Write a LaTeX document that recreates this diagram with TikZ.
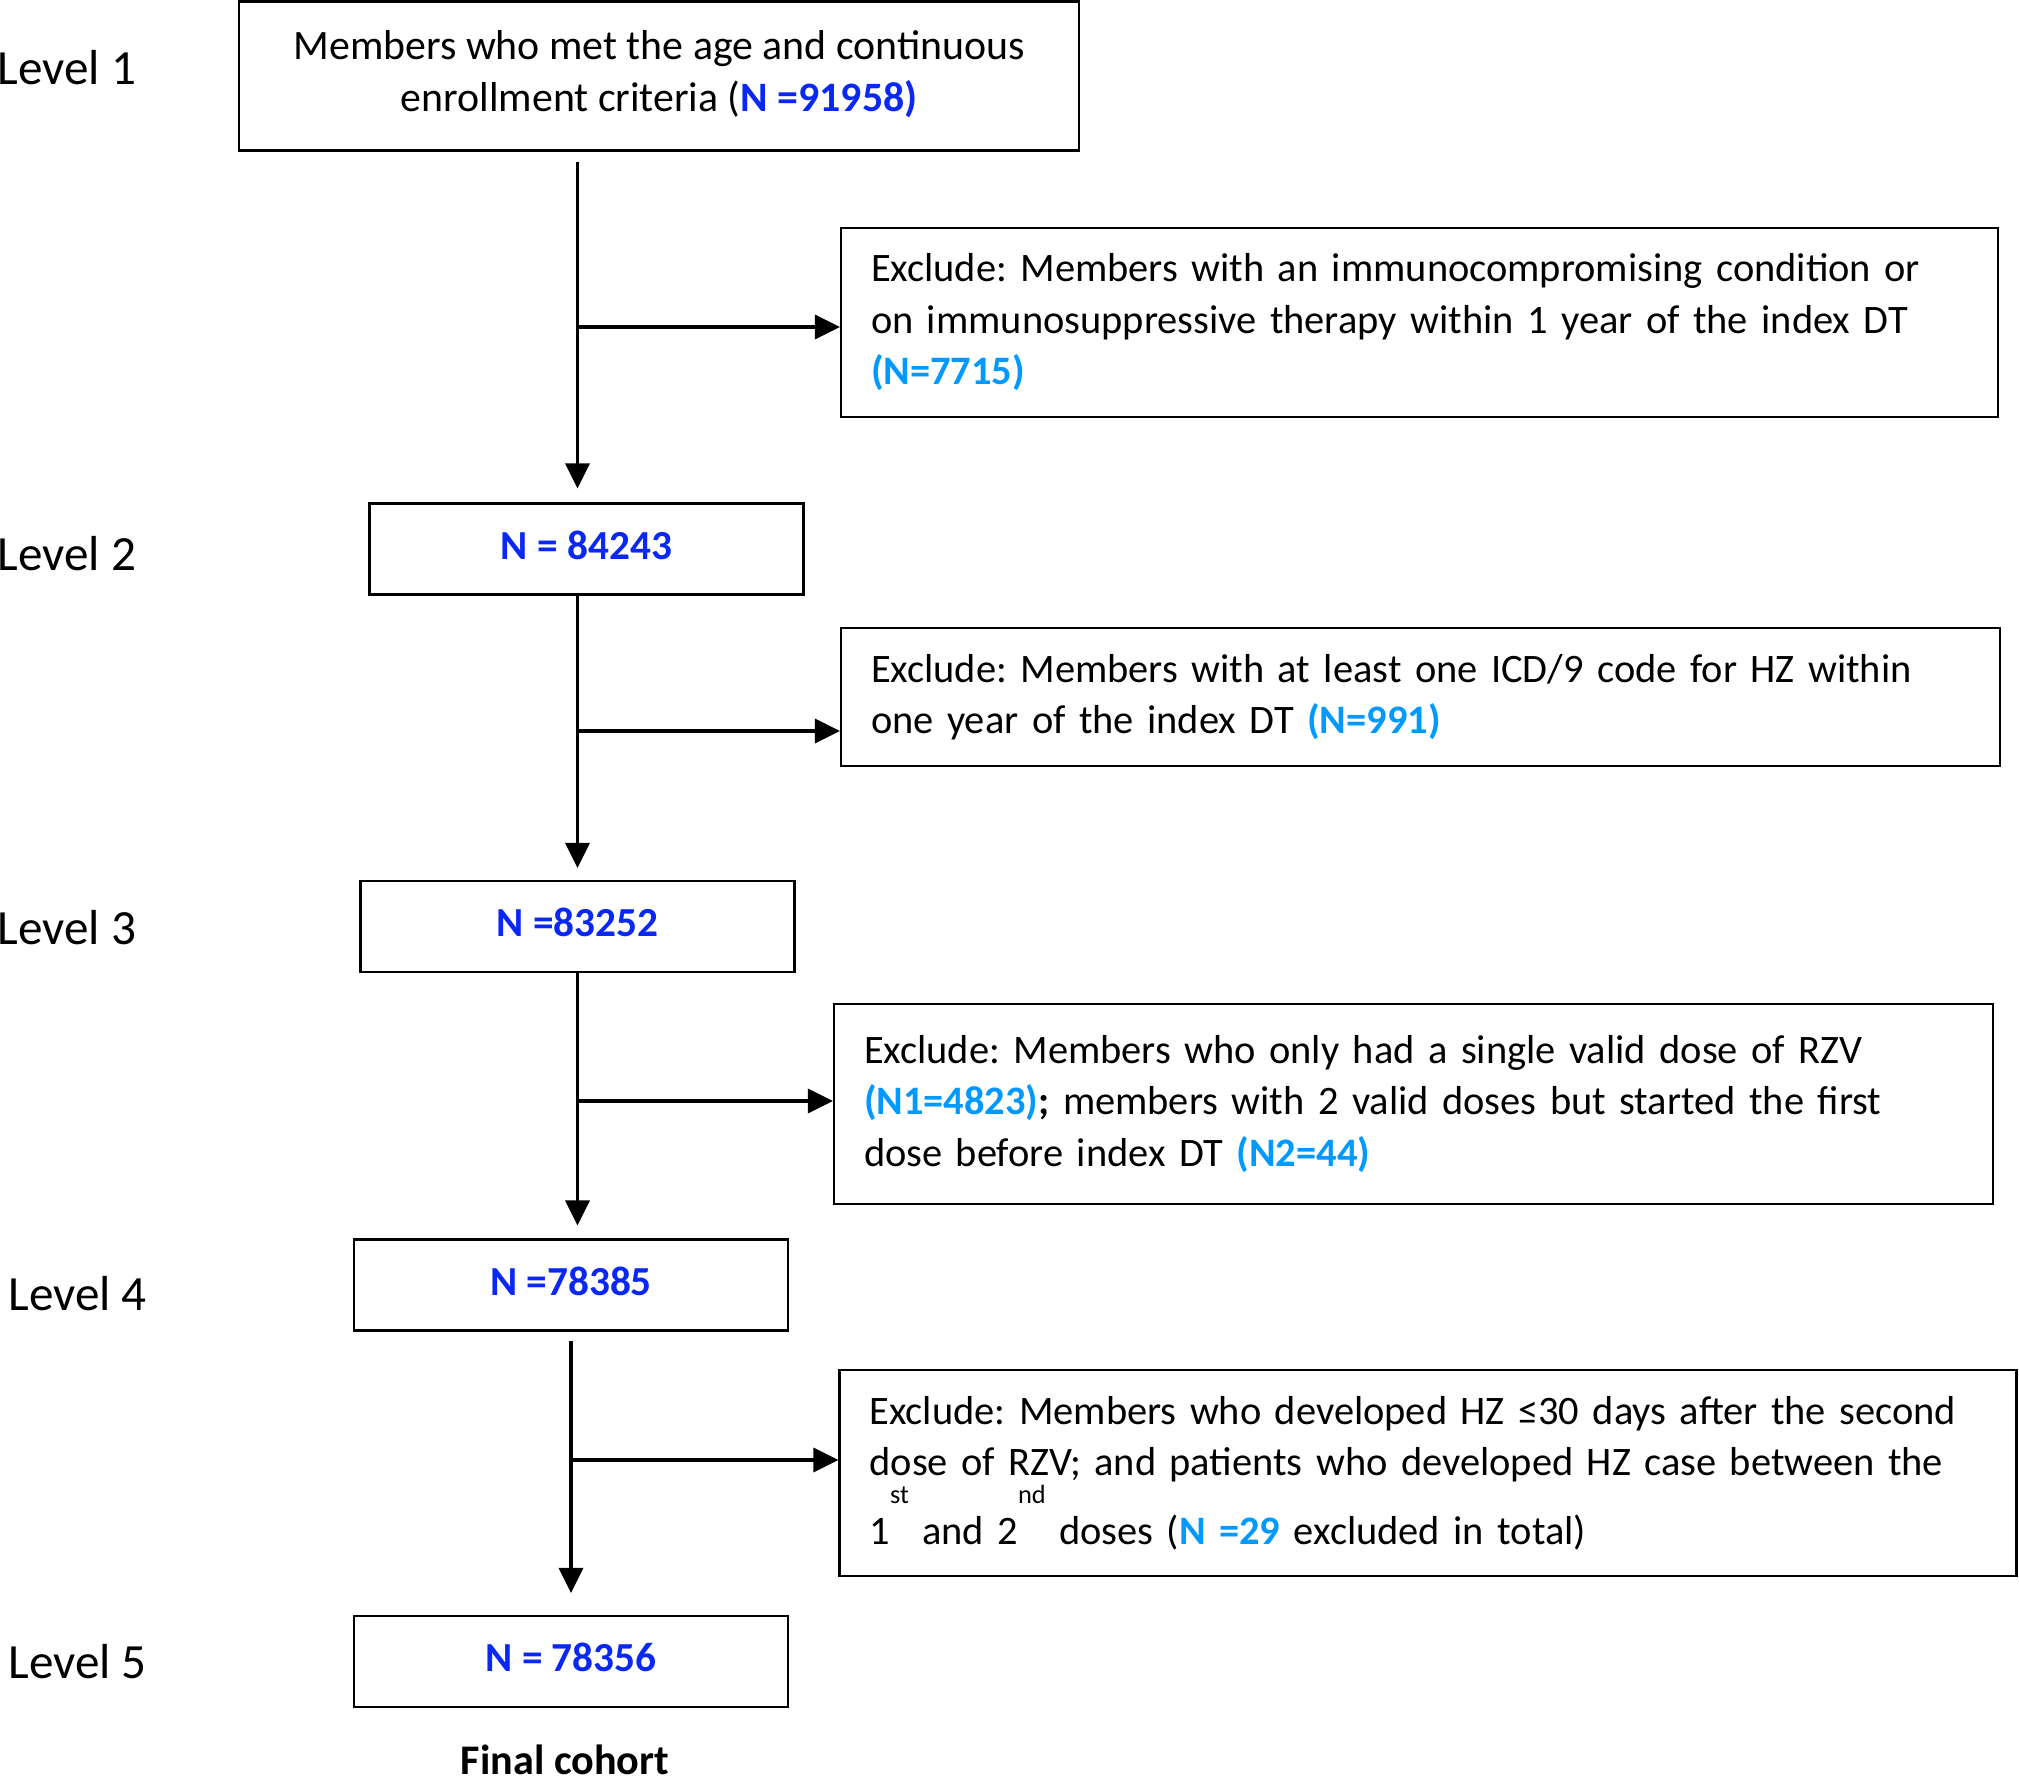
\documentclass[tikz,border=0pt]{standalone}
\usepackage{fontspec}
\setmainfont{Carlito}
\usepackage{tikz}
\usetikzlibrary{calc}
\usetikzlibrary{arrows.meta}
\definecolor{nblue}{RGB}{10,40,245}
\definecolor{xblue}{RGB}{0,153,255}
\frenchspacing
\newcommand{\supr}[1]{\raisebox{2.1ex}{\fontsize{7.5}{8}\selectfont #1}}
\tikzset{
  countbox/.style={draw, line width=0.6pt, minimum width=4.34cm, minimum height=0.91cm, inner sep=0pt, text depth=0.08cm, text=nblue, font=\fontsize{11.75}{14}\selectfont\bfseries},
  exclbox/.style={draw, line width=0.6pt, align=left, inner xsep=0.3cm, font=\fontsize{11.5}{14.66}\selectfont},
  levellabel/.style={anchor=west, inner sep=0pt, font=\fontsize{14}{16}\selectfont},
  flow/.style={line width=0.95pt, -{Triangle[length=0.25cm, width=0.24cm]}}
}
\begin{document}
\begin{tikzpicture}
\useasboundingbox (0,0) rectangle (20.19,-17.76);

% boxes down the left
\node[draw, line width=0.6pt, align=center, minimum width=8.40cm, minimum height=1.49cm, font=\fontsize{11.9}{14.66}\selectfont] (box1) at (6.5925,-0.76)
  {Members who met the age and continuous\\ enrollment criteria ({\color{nblue}\bfseries N =91958)}\rule[-0.1cm]{0pt}{0pt}};
\node[countbox] (box2) at (5.865,-5.49) {N = 84243};
\node[countbox] (box3) at (5.775,-9.265) {N =83252};
\node[countbox] (box4) at (5.71,-12.85) {N =78385};
\node[countbox] (box5) at (5.71,-16.615) {N = 78356};
\node[font=\fontsize{12}{14}\selectfont\bfseries] (final) at (5.65,-17.60) {Final cohort};

% exclusion boxes
\node[exclbox, text width=10.97cm, minimum height=1.89cm] (ex1) at (14.195,-3.225)
  {Exclude: Members with an immunocompromising condition or\\ on immunosuppressive therapy within 1 year of the index DT\\ {\color{xblue}\bfseries(N=7715)}};
\node[exclbox, text width=10.99cm, minimum height=1.38cm] (ex2) at (14.205,-6.97)
  {Exclude: Members with at least one ICD/9 code for HZ within\\ one year of the index DT {\color{xblue}\bfseries(N=991)}};
\node[exclbox, text width=10.99cm, minimum height=2.0cm] (ex3) at (14.135,-11.04)
  {Exclude: Members who only had a single valid dose of RZV\\ {\color{xblue}\bfseries(N1=4823)}{\bfseries;} members with 2 valid doses but started the first\\ dose before index DT {\color{xblue}\bfseries(N2=44)}};
\node[exclbox, text width=11.17cm, minimum height=2.06cm] (ex4) at (14.28,-14.73)
  {Exclude: Members who developed HZ ≤30 days after the second\\ dose of RZV; and patients who developed HZ case between the\\ 1\supr{st} and 2\supr{nd} doses ({\color{xblue}\bfseries N =29} excluded in total)};

% level labels
\node[levellabel] (lev1) at (-0.03,-0.68) {Level 1};
\node[levellabel] (lev2) at (-0.03,-5.54) {Level 2};
\node[levellabel] (lev3) at (-0.03,-9.28) {Level 3};
\node[levellabel] (lev4) at (0.077,-12.94) {Level 4};
\node[levellabel] (lev5) at (0.077,-16.62) {Level 5};

% branch points
\coordinate (b1) at (5.775,-3.27);
\coordinate (b2) at (5.775,-7.31);
\coordinate (b3) at (5.775,-11.01);
\coordinate (b4) at (5.71,-14.60);

\draw[flow, shorten <=0.1cm, shorten >=0.14cm] (box1.south -| box3.north) -- (box2.north -| box3.north);
\draw[flow, shorten >=0.12cm] (box2.south -| box3.north) -- (box3.north);
\draw[flow, shorten >=0.13cm] (box3.south) -- (box4.north -| box3.north);
\draw[flow, shorten <=0.09cm, shorten >=0.22cm] (box4.south) -- (box5.north);

\draw[flow] (b1) -- (b1 -| ex1.west);
\draw[flow] (b2) -- (b2 -| ex2.west);
\draw[flow] (b3) -- (b3 -| ex3.west);
\draw[flow] (b4) -- (b4 -| ex4.west);
\end{tikzpicture}
\end{document}
